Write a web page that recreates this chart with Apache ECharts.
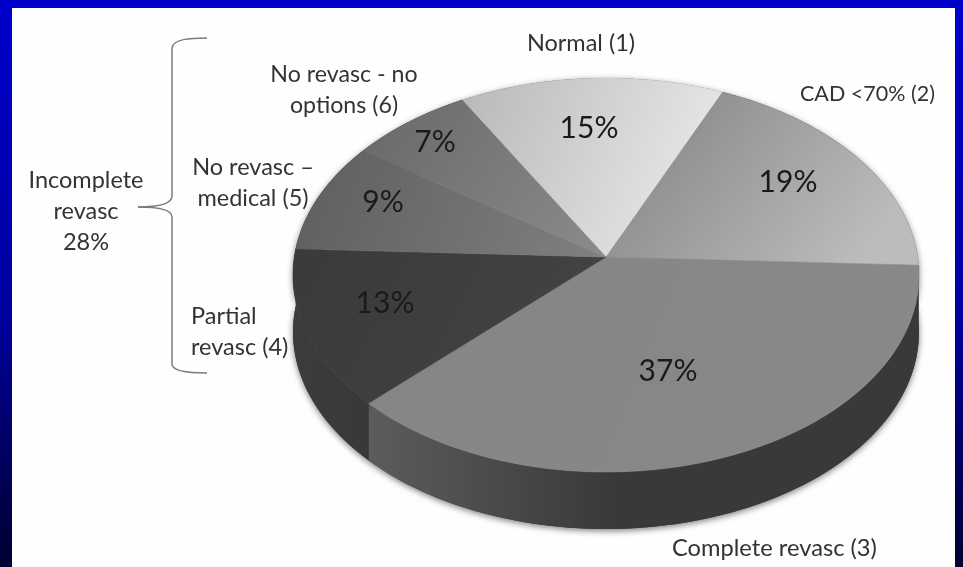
<!DOCTYPE html>
<html>
<head>
<meta charset="utf-8">
<style>html,body{margin:0;padding:0;background:#000080;overflow:hidden}#chart{width:963px;height:567px;filter:blur(0.5px)}</style>
<script src="https://cdn.jsdelivr.net/npm/echarts@6/dist/echarts.min.js"></script>
</head>
<body>
<div id="chart"></div>
<script>
// ---- data ----
const categories = ['Normal (1)', 'CAD <70% (2)', 'Complete revasc (3)', 'Partial\nrevasc (4)', 'No revasc \u2013\nmedical (5)', 'No revasc - no\noptions (6)'];
const shares = [15, 19, 37, 13, 9, 7];
const bracketLabel = 'Incomplete\nrevasc\n28%';

// ---- styling / layout ----
const FONT = 'Lato, "Open Sans", sans-serif';
const INK = '#333333';
const apex = {x: 606, y: 257};
const ellipse = {x: 606, y: 275, rx: 313, ry: 197};
const depth = 57;
const startAngle = -30;
const topColors = [
  [0, 0.1, 1, 0.7, '#b9b9b9', '#ececec'],
  [0.1, 0, 0.8, 1, '#858585', '#bcbcbc'],
  [0, 0, 1, 1, '#858585', '#898989'],
  [0, 0, 1, 1, '#3a3a3a', '#444444'],
  [0, 0, 1, 1, '#5e5e5e', '#808080'],
  [0, 0, 1, 1, '#686868', '#8b8b8b']
];
const wallColors = [
  [0, 0, 0, 1, '#777777', '#777777'],
  [0, 0, 0, 1, '#3a3a3a', '#3a3a3a'],
  [0, 0, 0.45, 0, '#5c5c5c', '#393939'],
  [0, 0, 1, 0, '#3c3c3c', '#383838'],
  [0, 0, 0, 1, '#444444', '#444444'],
  [0, 0, 0, 1, '#444444', '#444444']
];
const percentAnchors = [[589, 128], [788, 182], [668, 371], [385, 303], [383, 202], [435, 142]];
const labelAnchors = [
  {x: 581, y: 43, align: 'center', size: 23.5},
  {x: 800, y: 94, align: 'left', size: 21.5},
  {x: 672, y: 548, align: 'left', size: 23.7},
  {x: 191, y: 332, align: 'left', size: 23.5},
  {x: 253, y: 183, align: 'center', size: 23.5},
  {x: 344, y: 90, align: 'center', size: 23.2}
];

const total = shares.reduce((a, b) => a + b, 0);
function outlinePoint(deg) {
  const r = deg * Math.PI / 180;
  const dx = Math.sin(r), dy = -Math.cos(r);
  const oy = (apex.y - ellipse.y) / ellipse.ry;
  const b = oy * dy, c = oy * oy - 1;
  const t = -b + Math.sqrt(b * b - c);
  return [apex.x + t * dx * ellipse.rx, ellipse.y + (oy + t * dy) * ellipse.ry];
}
function arcPoints(a0, a1) {
  const n = Math.max(2, Math.ceil(Math.abs(a1 - a0) / 1.5));
  const pts = [];
  for (let i = 0; i <= n; i++) pts.push(outlinePoint(a0 + (a1 - a0) * i / n));
  return pts;
}
function sliceRange(i) {
  let before = 0;
  for (let k = 0; k < i; k++) before += shares[k];
  return [startAngle + before / total * 360, startAngle + (before + shares[i]) / total * 360];
}
function grad(c) {
  return new echarts.graphic.LinearGradient(c[0], c[1], c[2], c[3], [
    {offset: 0, color: c[4]}, {offset: 1, color: c[5]}
  ]);
}
function wallPoints(a0, a1) {
  const arc = arcPoints(a0, a1);
  return arc.concat(arc.map(p => [p[0], p[1] + depth]).reverse());
}
function renderShadow() {
  return {
    type: 'polygon',
    shape: {points: wallPoints(startAngle, startAngle + 360)},
    style: {fill: '#3a3a3a', shadowBlur: 6, shadowColor: 'rgba(0,0,0,0.5)', shadowOffsetY: 2}
  };
}
function renderWall(params, api) {
  const i = api.value(0);
  const [a0, a1] = sliceRange(i);
  const g = grad(wallColors[i]);
  return {type: 'polygon', shape: {points: wallPoints(a0, a1)}, style: {fill: g}};
}
function renderTop(params, api) {
  const i = api.value(0);
  const [a0, a1] = sliceRange(i);
  const g = grad(topColors[i]);
  return {
    type: 'group',
    children: [
      {type: 'polygon', shape: {points: [[apex.x, apex.y]].concat(arcPoints(a0, a1))},
       style: {fill: g, stroke: g, lineWidth: 0.6}},
      {type: 'text', z2: 10, style: {
        x: percentAnchors[i][0], y: percentAnchors[i][1],
        text: api.value(1) + '%', align: 'center', verticalAlign: 'middle',
        font: '30px ' + FONT, fill: '#1a1a1a'}}
    ]
  };
}
function labelText(text, a) {
  return {type: 'text', z: 5, style: {x: a.x, y: a.y, text: text, align: a.align, verticalAlign: 'middle',
    font: a.size + 'px ' + FONT, fill: INK, lineHeight: 31}};
}
const braceStyle = {fill: 'none', stroke: '#7b7b7b', lineWidth: 1.5};
function curve(x1, y1, cpx1, cpy1, cpx2, cpy2, x2, y2) {
  return {type: 'bezierCurve', z: 5, shape: {x1, y1, cpx1, cpy1, cpx2, cpy2, x2, y2}, style: braceStyle};
}
function stem(x1, y1, x2, y2) {
  return {type: 'line', z: 5, shape: {x1, y1, x2, y2}, style: braceStyle};
}

const sliceData = shares.map((v, i) => ({value: [i, v], name: categories[i]}));
const chart = echarts.init(document.getElementById('chart'));
chart.setOption({
  animation: false,
  backgroundColor: new echarts.graphic.LinearGradient(0, 0, 0, 1, [
    {offset: 0, color: '#0000cc'}, {offset: 0.55, color: '#0000a0'}, {offset: 1, color: '#000030'}
  ]),
  graphic: [
    {type: 'rect', z: 0, shape: {x: 12, y: 8, width: 943, height: 559}, style: {fill: '#fefefe'}},
    curve(207, 38, 190, 38, 173, 39, 172, 48),
    stem(172, 48, 172, 196),
    curve(172, 196, 172, 204, 160, 207, 138, 207),
    curve(138, 207, 160, 207, 172, 210, 172, 217),
    stem(172, 217, 172, 364),
    curve(172, 364, 172, 371, 190, 373, 207, 373),
    labelText(bracketLabel, {x: 86, y: 211, align: 'center', size: 23.5})
  ].concat(categories.map((c, i) => labelText(c, labelAnchors[i]))),
  series: [
    {type: 'custom', coordinateSystem: 'none', z: 1, renderItem: renderShadow, data: [[total]], silent: true},
    {type: 'custom', coordinateSystem: 'none', z: 2, renderItem: renderWall, data: sliceData, silent: true},
    {type: 'custom', coordinateSystem: 'none', z: 3, renderItem: renderTop, data: sliceData, silent: true}
  ]
});
</script>
</body>
</html>
